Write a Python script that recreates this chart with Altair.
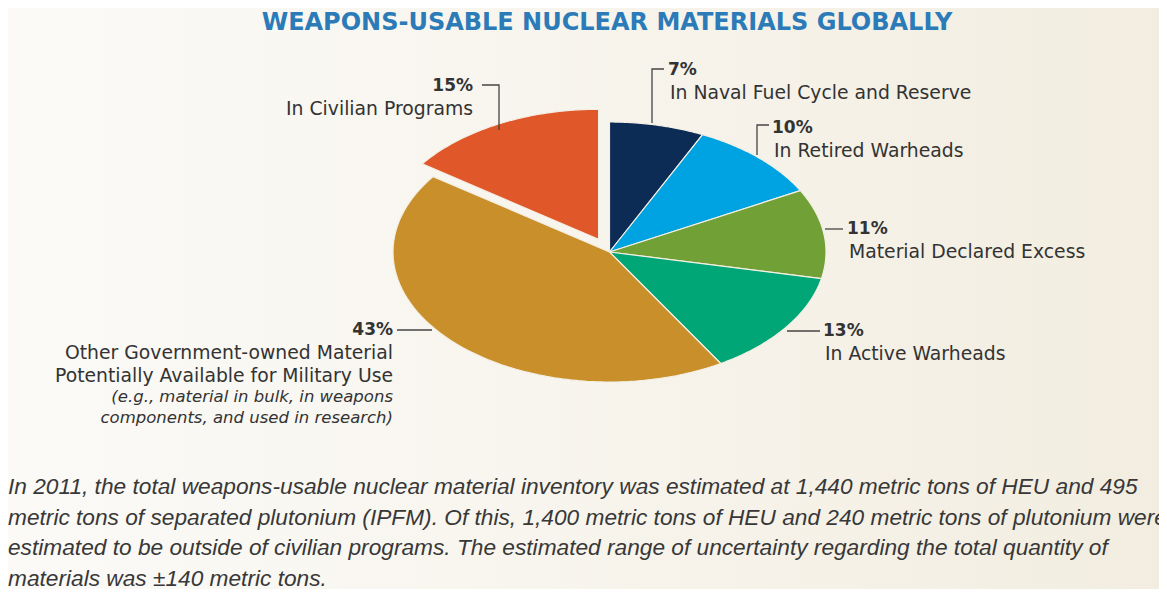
import altair as alt
import pandas as pd

# ---------------- data ----------------
categories = [
    "In Naval Fuel Cycle and Reserve",
    "In Retired Warheads",
    "Material Declared Excess",
    "In Active Warheads",
    "Other Government-owned Material\nPotentially Available for Military Use",
    "In Civilian Programs",
]
values = [7, 10, 11, 13, 43, 15]
colors = ["#0c2b55", "#00a3e2", "#70a036", "#00a675", "#c98f2b", "#e0572a"]
note_43 = ["(e.g., material in bulk, in weapons", "components, and used in research)"]
title_text = "WEAPONS-USABLE NUCLEAR MATERIALS GLOBALLY"
caption_lines = [
    "In 2011, the total weapons-usable nuclear material inventory was estimated at 1,440 metric tons of HEU and 495",
    "metric tons of separated plutonium (IPFM). Of this, 1,400 metric tons of HEU and 240 metric tons of plutonium were",
    "estimated to be outside of civilian programs. The estimated range of uncertainty regarding the total quantity of",
    "materials was \u00b1140 metric tons.",
]

# ---------------- layout (chart pixel space) ----------------
W, H = 1151, 581
CX, CY, A, B = 601.5, 244.0, 216.5, 130.0   # ellipse centre / radii
EXPLODE = 0.11
N = 72

# label layout: (x, y of first line, align)
label_pos = [
    (660, 62, "left"),
    (764, 120, "left"),
    (839, 221, "left"),
    (815, 323, "left"),
    (385, 322, "right"),
    (465, 78, "right"),
]
LINE_H = 23
leaders = [
    [(644, 115), (644, 61), (656, 61)],
    [(749, 147), (749, 117), (761, 117)],
    [(817, 221), (835, 221)],
    [(779, 323), (812, 323)],
    [(389, 322), (424, 322)],
    [(474, 77), (491, 77), (491, 122)],
]

FONT = "DejaVu Sans"
TEXT_COL = "#333333"

xs = alt.Scale(domain=[0, W], nice=False, zero=False)
ys = alt.Scale(domain=[0, H], nice=False, zero=False, reverse=True)

# background gradient
bg = alt.Chart(pd.DataFrame({"a": [0]})).mark_rect(
    fill=alt.Gradient(
        gradient="linear",
        stops=[alt.GradientStop(color="#fbfaf7", offset=0),
               alt.GradientStop(color="#f8f5ee", offset=0.45),
               alt.GradientStop(color="#f2ede0", offset=1)],
        x1=0, x2=1, y1=0, y2=0,
    )
).encode(x=alt.value(0), x2=alt.value(W), y=alt.value(0), y2=alt.value(H))

# pie as elliptical slices
pie_df = pd.DataFrame({"category": categories, "value": values, "idx": list(range(len(values)))})
pie = (
    alt.Chart(pie_df)
    .transform_joinaggregate(total="sum(value)")
    .transform_window(cum="sum(value)", sort=[alt.SortField("idx")], frame=[None, 0])
    .transform_calculate(f0="(datum.cum - datum.value) / datum.total")
    .transform_calculate(f1="datum.cum / datum.total")
    .transform_calculate(ex=f"datum.idx == 5 ? {EXPLODE} : 0")
    .transform_calculate(k=f"sequence(-1, {N + 1})")
    .transform_flatten(["k"])
    .transform_calculate(t=f"2 * PI * (datum.f0 + (datum.f1 - datum.f0) * max(datum.k, 0) / {N})")
    .transform_calculate(tm="PI * (datum.f0 + datum.f1)")
    .transform_calculate(px=f"{CX} + datum.ex * {A} * sin(datum.tm) + (datum.k < 0 ? 0 : {A} * sin(datum.t))")
    .transform_calculate(py=f"{CY} - datum.ex * {B} * cos(datum.tm) - (datum.k < 0 ? 0 : {B} * cos(datum.t))")
    .mark_line(interpolate="linear-closed", filled=True, stroke="#f4efe4", strokeWidth=1.2, strokeJoin="round")
    .encode(
        x=alt.X("px:Q", scale=xs, axis=None),
        y=alt.Y("py:Q", scale=ys, axis=None),
        color=alt.Color("category:N", scale=alt.Scale(domain=categories, range=colors), legend=None),
        detail="category:N",
        order=alt.Order("k:Q"),
    )
)

# leader lines
lrows = []
for i, pts in enumerate(leaders):
    for j, (x, y) in enumerate(pts):
        lrows.append({"lid": i, "j": j, "x": x, "y": y})
lead = alt.Chart(pd.DataFrame(lrows)).mark_line(color="#444444", strokeWidth=1.3).encode(
    x=alt.X("x:Q", scale=xs, axis=None),
    y=alt.Y("y:Q", scale=ys, axis=None),
    detail="lid:N",
    order="j:Q",
)

# labels
pct_rows, txt_rows, note_rows = [], [], []
for i, (cat, v) in enumerate(zip(categories, values)):
    x, y, al = label_pos[i]
    pct_rows.append({"x": x, "y": y, "t": f"{v}%", "al": al})
    for j, line in enumerate(cat.split("\n")):
        txt_rows.append({"x": x + (2 if al == "left" else 0), "y": y + LINE_H * (j + 1), "t": line, "al": al})
    if i == 4:
        base = y + LINE_H * (len(cat.split("\n")) + 1) - 2
        for j, line in enumerate(note_43):
            note_rows.append({"x": x, "y": base + 21 * j, "t": line, "al": al})


def text_layer(rows, **kw):
    df = pd.DataFrame(rows)
    layers = []
    for al in ["left", "right"]:
        sub = df[df["al"] == al]
        if len(sub) == 0:
            continue
        layers.append(
            alt.Chart(sub).mark_text(align=al, baseline="middle", **kw).encode(
                x=alt.X("x:Q", scale=xs, axis=None),
                y=alt.Y("y:Q", scale=ys, axis=None),
                text="t:N",
            )
        )
    return layers


pct_layers = text_layer(pct_rows, font=FONT, fontSize=17, fontWeight="bold", color=TEXT_COL)
txt_layers = text_layer(txt_rows, font=FONT, fontSize=18.8, color=TEXT_COL)
note_layers = text_layer(note_rows, font=FONT, fontSize=16.5, fontStyle="italic", color=TEXT_COL)

title = alt.Chart(pd.DataFrame({"t": [title_text]})).mark_text(
    font=FONT, fontSize=24, fontWeight="bold", color="#2b7bb8", align="center", baseline="middle",
).encode(x=alt.value(599), y=alt.value(15), text="t:N")

cap_df = pd.DataFrame({"t": caption_lines, "i": list(range(len(caption_lines)))})
caption = alt.Chart(cap_df).transform_calculate(yy="479 + 30.5 * datum.i").mark_text(
    font="Liberation Sans", fontSize=22.7, fontStyle="italic", color="#383838", align="left", baseline="middle",
).encode(x=alt.value(0), y=alt.Y("yy:Q", scale=ys, axis=None), text="t:N")

chart = alt.layer(bg, pie, lead, *pct_layers, *txt_layers, *note_layers, title, caption).properties(
    width=W, height=H, padding=0, autosize=alt.AutoSizeParams(type="none")
).configure_view(stroke=None)

chart.save("out.html", embed_options={"renderer": "svg", "actions": False})
